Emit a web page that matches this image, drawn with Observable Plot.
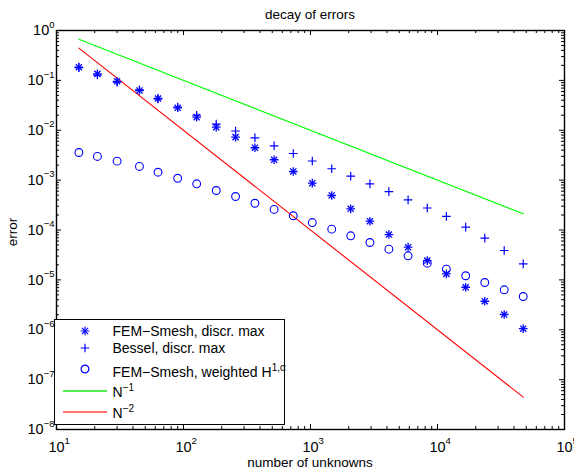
<!DOCTYPE html>
<html>
<head>
<meta charset="utf-8">
<script src="https://cdn.jsdelivr.net/npm/d3@7"></script>
<script src="https://cdn.jsdelivr.net/npm/@observablehq/plot@0.6"></script>
<style>
  html, body { margin: 0; padding: 0; background: #fff; }
  #wrap { position: relative; width: 574px; height: 472px; overflow: hidden;
          font-family: "Liberation Sans", Arial, Helvetica, sans-serif; color: #000; }
  #wrap svg { position: absolute; left: 0; top: 0; }
  .ov { position: absolute; white-space: nowrap; font-size: 14px; line-height: 14px; }
  .sup { position: relative; font-size: 10px; top: -6px; }
</style>
</head>
<body>
<div id="wrap"></div>
<script>
// ---------------- data ----------------
const unknowns = [15, 21, 30, 45, 63, 90, 127, 181, 257, 365, 517, 732, 1033, 1469, 2073, 2936,
                  4143, 5868, 8310, 11750, 16670, 23570, 33510, 47300];
const femSmeshMax = [0.184, 0.135, 0.0958, 0.0627, 0.0433, 0.0282, 0.0183, 0.0115, 0.00727, 0.00446,
                     0.00256, 0.00149, 8.68e-4, 4.92e-4, 2.66e-4, 1.50e-4, 8.11e-5, 4.52e-5, 2.44e-5,
                     1.32e-5, 7.11e-6, 3.73e-6, 2.02e-6, 1.05e-6];
const besselMax = [0.18, 0.128, 0.0919, 0.0647, 0.0427, 0.029, 0.020, 0.0133, 0.00966, 0.00706,
                   0.00488, 0.00342, 0.00242, 0.00169, 0.0012, 8.44e-4, 5.86e-4, 4.03e-4, 2.76e-4,
                   1.87e-4, 1.14e-4, 6.85e-5, 3.88e-5, 2.10e-5];
const femSmeshWeighted = [0.00358, 0.00298, 0.0024, 0.00188, 0.00144, 0.00109, 8.44e-4, 6.19e-4,
                          4.70e-4, 3.44e-4, 2.58e-4, 1.93e-4, 1.41e-4, 1.04e-4, 7.65e-5, 5.62e-5,
                          4.12e-5, 3.04e-5, 2.16e-5, 1.64e-5, 1.21e-5, 8.85e-6, 6.32e-6, 4.64e-6];
const refUnknowns = [15, 47300];
const refOrder1 = [0.667, 2.11e-4];
const refOrder2 = [0.444, 4.47e-8];

const xTickValues = [10, 100, 1000, 10000, 100000];
const xTickLabels = ["10^1", "10^2", "10^3", "10^4", "10^5"];
const yTickValues = [1e-8, 1e-7, 1e-6, 1e-5, 1e-4, 1e-3, 1e-2, 1e-1, 1];
const yTickLabels = ["10^\u22128", "10^\u22127", "10^\u22126", "10^\u22125", "10^\u22124",
                     "10^\u22123", "10^\u22122", "10^\u22121", "10^0"];
const legendLabels = ["FEM\u2212Smesh, discr. max", "Bessel, discr. max",
                      "FEM\u2212Smesh, weighted H^1,\u03b1", "N^\u22121", "N^\u22122"];
const titleText = "decay of errors";
const xLabelText = "number of unknowns";
const yLabelText = "error";

// ---------------- build ----------------
const FONT = '"Liberation Sans", Arial, Helvetica, sans-serif';
const W = 574, H = 472, mL = 56, mR = 10, mT = 30, mB = 43;
const fw = W - mL - mR, fh = H - mT - mB;
const blue = "#0000ff";

const rows = unknowns.map((n, i) => ({n, fem: femSmeshMax[i], bessel: besselMax[i], weighted: femSmeshWeighted[i]}));
const ref1 = refUnknowns.map((n, i) => ({n, v: refOrder1[i]}));
const ref2 = refUnknowns.map((n, i) => ({n, v: refOrder2[i]}));

const xMinor = [];
for (let e = 1; e < 5; e++) for (let k = 2; k < 10; k++) xMinor.push(k * 10 ** e);
const yMinor = [];
for (let e = -8; e < 0; e++) for (let k = 2; k < 10; k++) yMinor.push(k * 10 ** e);

const lookup = (vals, labels) => d => {
  const i = vals.findIndex(v => Math.abs(Math.log10(v / d)) < 1e-6);
  return i >= 0 ? labels[i] : "";
};

const chart = Plot.plot({
  width: W, height: H,
  marginLeft: mL, marginRight: mR, marginTop: mT, marginBottom: mB,
  style: {fontFamily: FONT, fontSize: "14.5px", background: "transparent", color: "#000", overflow: "visible"},
  x: {type: "log", domain: [10, 1e5]},
  y: {type: "log", domain: [1e-8, 1]},
  marks: [
    Plot.line(ref1, {x: "n", y: "v", stroke: "#00ff00", strokeWidth: 1.1}),
    Plot.line(ref2, {x: "n", y: "v", stroke: "#ff0000", strokeWidth: 1.1}),
    Plot.dot(rows, {x: "n", y: "fem", symbol: "plus", r: 2.9, stroke: blue, strokeWidth: 1.3}),
    Plot.dot(rows, {x: "n", y: "fem", symbol: "times", r: 2.9, stroke: blue, strokeWidth: 1.3}),
    Plot.dot(rows, {x: "n", y: "bessel", symbol: "plus", r: 2.9, stroke: blue, strokeWidth: 1.2}),
    Plot.dot(rows, {x: "n", y: "weighted", symbol: "circle", r: 3.9, stroke: blue, fill: "none", strokeWidth: 1.1}),
    // inward ticks on all four sides
    Plot.ruleX(xTickValues, {insetTop: fh - 5, stroke: "#000"}),
    Plot.ruleX(xTickValues, {insetBottom: fh - 5, stroke: "#000"}),
    Plot.ruleX(xMinor, {insetTop: fh - 3, stroke: "#000"}),
    Plot.ruleX(xMinor, {insetBottom: fh - 3, stroke: "#000"}),
    Plot.ruleY(yTickValues, {insetRight: fw - 5, stroke: "#000"}),
    Plot.ruleY(yTickValues, {insetLeft: fw - 5, stroke: "#000"}),
    Plot.ruleY(yMinor, {insetRight: fw - 3, stroke: "#000"}),
    Plot.ruleY(yMinor, {insetLeft: fw - 3, stroke: "#000"}),
    Plot.frame({stroke: "#000", strokeWidth: 1.4}),
    Plot.axisX({ticks: xTickValues, tickSize: 0, tickPadding: 12, tickFormat: lookup(xTickValues, xTickLabels), label: null}),
    Plot.axisY({ticks: yTickValues, tickSize: 0, tickPadding: 2, tickFormat: lookup(yTickValues, yTickLabels), label: null})
  ]
});

const wrap = document.getElementById("wrap");
wrap.appendChild(chart);

// superscripts in tick labels
const NS = "http://www.w3.org/2000/svg";
chart.querySelectorAll("text").forEach(t => {
  const s = t.textContent;
  if (!s.includes("^")) return;
  const [base, sup] = s.split("^");
  t.textContent = base;
  const isX = !!t.closest('[aria-label^="x-axis"]');
  if (isX) {
    const wBase = t.getComputedTextLength();
    t.setAttribute("text-anchor", "start");
    t.setAttribute("dx", (-wBase / 2).toFixed(2));
  }
  const ts = document.createElementNS(NS, "tspan");
  ts.setAttribute("dy", "-7.5");
  ts.setAttribute("font-size", "9.5px");
  ts.textContent = sup;
  t.appendChild(ts);
});

// ---------------- overlays: title, axis labels, legend ----------------
function supHTML(str) {
  const [a, b] = str.split("^");
  const span = document.createElement("span");
  span.appendChild(document.createTextNode(a));
  if (b !== undefined) {
    const s = document.createElement("span");
    s.className = "sup";
    s.textContent = b;
    span.appendChild(s);
  }
  return span;
}
function ov(style) {
  const d = document.createElement("div");
  d.className = "ov";
  Object.assign(d.style, style);
  wrap.appendChild(d);
  return d;
}

ov({left: "160px", width: "300px", top: "8px", textAlign: "center", fontSize: "13.5px"}).textContent = titleText;
ov({left: "160px", width: "300px", top: "456px", textAlign: "center", fontSize: "13.5px"}).textContent = xLabelText;
ov({left: "-37px", width: "100px", top: "225px", textAlign: "center", fontSize: "13.5px",
    transform: "rotate(-90deg)", transformOrigin: "50% 50%"}).textContent = yLabelText;

// legend box
ov({left: "54px", top: "319px", width: "231px", height: "106px", border: "1.5px solid #000",
    background: "#fff", boxSizing: "border-box"});

const symSize = Math.PI * 2.9 * 2.9;
const pPlus = d3.symbol(d3.symbolPlus, symSize)();
const pTimes = d3.symbol(d3.symbolTimes, symSize)();
const pCircle = d3.symbol(d3.symbolCircle, Math.PI * 3.9 * 3.9)();
const glyphs = [
  `<path d="${pPlus}"/><path d="${pTimes}"/>`,
  `<path d="${pPlus}"/>`,
  `<path d="${pCircle}"/>`
];
const symRowY = [330.7, 348.3, 369.3];
glyphs.forEach((g, i) => {
  const d = ov({left: (85 - 8) + "px", top: (symRowY[i] - 8) + "px", width: "16px", height: "16px"});
  d.innerHTML = `<svg width="16" height="16" viewBox="-8 -8 16 16" style="display:block"><g fill="none" stroke="${blue}" stroke-width="1.2">${g}</g></svg>`;
});
const lineRows = [{y: 390.5, c: "#33ee33"}, {y: 411.5, c: "#ff5a5a"}];
lineRows.forEach(r => {
  ov({left: "63px", top: (r.y - 1) + "px", width: "44px", height: "2px", background: r.c, opacity: "0.85"});
});
const textRowY = [330.7, 348.3, 371.7, 392, 412.5];
legendLabels.forEach((lab, i) => {
  const d = ov({left: "112.5px", top: (textRowY[i] - 7) + "px", fontSize: "14px"});
  d.appendChild(supHTML(lab));
});
</script>
</body>
</html>
